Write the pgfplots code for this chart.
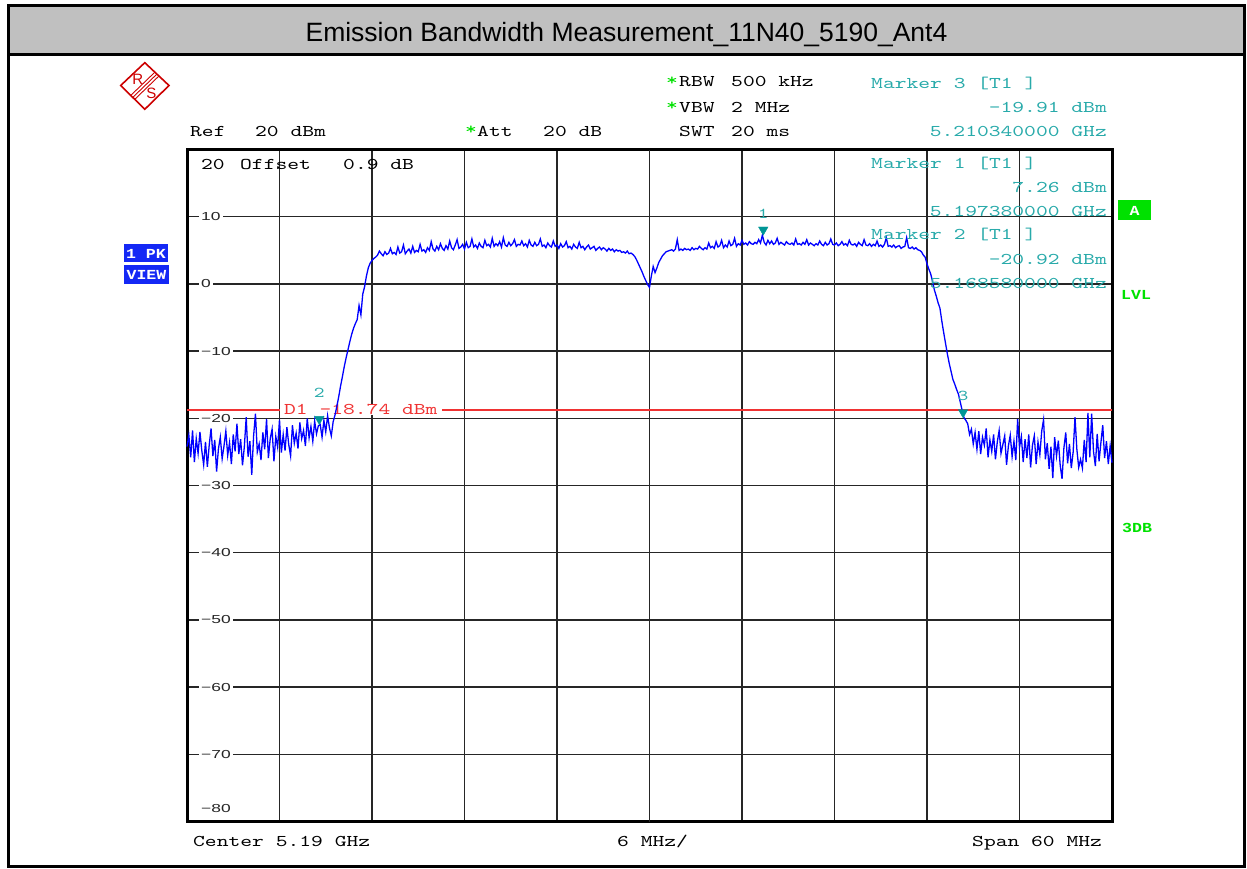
\documentclass[border=0pt]{standalone}
\usepackage{pgfplots}
\pgfplotsset{compat=1.18}
\usetikzlibrary{calc}
\usepackage{fontspec}
\setmainfont{Liberation Sans}
\newfontfamily\monof[Extension=.otf, FakeStretch=1.37]{lmmono10-regular}
\newfontfamily\monobx[FakeStretch=1.2]{Liberation Mono}
\newfontfamily\tickf[FakeStretch=1.5]{Liberation Sans}
\newcommand{\ms}{\fontsize{16.4}{18}\selectfont}
\newcommand{\tfs}{\fontsize{11.6}{12}\selectfont}
\newcommand{\bs}{\fontsize{13.8}{15}\selectfont}
\definecolor{trace}{RGB}{0,0,255}
\definecolor{mk}{RGB}{0,150,150}
\definecolor{mtext}{RGB}{40,170,170}
\definecolor{rsgreen}{RGB}{0,225,0}
\definecolor{dline}{RGB}{240,50,50}
\definecolor{boxblue}{RGB}{20,40,245}
\definecolor{titlegray}{RGB}{192,192,192}
\definecolor{rsred}{RGB}{204,0,0}
\begin{document}
\begin{tikzpicture}
\useasboundingbox (0,0) rectangle (1247pt,869pt);
\begin{scope}[x=1pt,y=-1pt,yshift=869pt]
 \fill[titlegray] (8,5.5) rectangle (1244,54.7);
 \draw[line width=3pt] (8,5.5) rectangle (1244,867);
 \draw[line width=3pt] (8,54.7) -- (1244,54.7);
 \node[anchor=base, inner sep=0pt, font=\fontsize{26.5}{30}\selectfont] at (626.5,41.7) {Emission Bandwidth Measurement\_11N40\_5190\_Ant4};
\end{scope}

\begin{axis}[at={(187pt,47.4pt)}, anchor=south west, width=925pt, height=672pt, scale only axis,
  xmin=0, xmax=60, ymin=-80, ymax=20,
  xtick={0,6,...,60}, ytick={-80,-70,...,20},
  xticklabels={}, yticklabels={},
  grid=major, major grid style={line width=1.4pt, black!85},
  extra x ticks={30}, extra x tick labels={}, extra x tick style={grid style={line width=2.8pt, black}},
  tick style={draw=none},
  axis line style={line width=3pt, black},
  clip=false]
 % level tick labels inside plot
 \begin{scope}[every node/.style={anchor=west, fill=white, inner xsep=2.5pt, inner ysep=1.5pt, xshift=11.5pt, font=\tickf\tfs, text=black!85}]
  \node at (axis cs:0,10) {10};
  \node at (axis cs:0,0) {0};
  \node at (axis cs:0,-10) {−10};
  \node at (axis cs:0,-20) {−20};
  \node at (axis cs:0,-30) {−30};
  \node at (axis cs:0,-40) {−40};
  \node at (axis cs:0,-50) {−50};
  \node at (axis cs:0,-60) {−60};
  \node at (axis cs:0,-70) {−70};
 \end{scope}
 \node[anchor=west, inner xsep=0pt, xshift=14pt, font=\tickf\tfs, text=black!85] at (axis cs:0,-78) {−80};
 % display line D1
 \addplot[dline, line width=1.3pt] coordinates {(0,-18.74) (60,-18.74)};
 \node[anchor=base west, fill=white, text=dline, inner xsep=4pt, inner ysep=0pt, yshift=-4.7pt, font=\monof\ms] at (axis cs:6.03,-18.74) {D1 -18.74 dBm\hspace{6pt}};
 % trace
 \addplot[trace, line width=1.3pt] table[header=false, row sep=\\, x expr=\coordindex*0.12, y index=0] {
-24.2\\-22.5\\-25.8\\-21.8\\-26.5\\-23.0\\-25.2\\-22.0\\-24.8\\-26.9\\
-23.5\\-27.2\\-24.0\\-21.5\\-25.6\\-23.2\\-27.9\\-24.5\\-22.8\\-26.0\\
-24.1\\-21.9\\-25.5\\-23.6\\-26.8\\-22.4\\-24.9\\-20.8\\-25.3\\-23.1\\
-27.0\\-24.2\\-19.8\\-25.7\\-23.4\\-28.4\\-22.6\\-19.3\\-25.0\\-23.8\\
-26.2\\-22.1\\-24.6\\-20.1\\-25.9\\-23.0\\-21.6\\-26.4\\-22.7\\-24.3\\
-20.2\\-25.1\\-22.4\\-24.8\\-21.3\\-23.9\\-25.6\\-21.0\\-23.7\\-22.2\\
-24.5\\-20.6\\-23.0\\-21.8\\-24.1\\-20.0\\-22.9\\-21.2\\-23.4\\-20.4\\
-22.3\\-21.1\\-20.9\\-22.8\\-20.3\\-22.0\\-19.6\\-21.4\\-22.6\\-20.5\\
-19.5\\-18.2\\-16.8\\-15.2\\-13.8\\-12.3\\-11.0\\-9.8\\-8.6\\-7.5\\
-6.6\\-5.9\\-5.3\\-3.2\\-4.6\\-1.5\\-0.4\\1.2\\2.4\\3.1\\
3.5\\3.8\\4.0\\4.3\\4.9\\4.5\\4.2\\4.8\\4.4\\4.6\\
5.3\\4.5\\4.7\\4.4\\5.5\\4.6\\4.8\\5.8\\4.5\\4.9\\
5.2\\4.6\\5.6\\4.7\\5.0\\4.8\\5.9\\4.9\\5.1\\4.7\\
5.4\\5.0\\6.3\\5.2\\4.9\\5.6\\5.1\\6.0\\5.3\\5.0\\
5.7\\5.2\\6.4\\5.4\\5.1\\5.8\\6.6\\5.3\\5.5\\5.9\\
5.2\\6.2\\5.4\\5.6\\6.7\\5.5\\5.8\\5.3\\6.1\\5.6\\
5.4\\6.5\\5.7\\5.9\\5.5\\6.8\\5.6\\6.0\\5.7\\6.3\\
5.5\\6.9\\5.8\\5.6\\6.2\\5.7\\6.0\\6.6\\5.6\\5.9\\
5.8\\6.4\\5.7\\6.0\\5.5\\6.5\\5.8\\5.6\\6.2\\5.7\\
5.9\\6.7\\5.6\\5.8\\5.4\\6.1\\5.7\\5.5\\6.4\\5.6\\
5.8\\5.3\\6.0\\5.5\\5.7\\6.3\\5.4\\5.6\\5.2\\5.9\\
5.5\\5.3\\6.2\\5.4\\5.6\\5.1\\5.5\\5.8\\5.2\\5.4\\
5.6\\5.0\\5.3\\5.5\\5.1\\5.4\\5.2\\4.9\\5.3\\5.0\\
5.2\\4.8\\5.1\\4.9\\5.0\\4.7\\4.8\\4.6\\4.9\\4.5\\
4.6\\4.4\\4.1\\3.6\\3.0\\2.4\\1.8\\1.1\\0.5\\-0.1\\
-0.5\\1.2\\2.6\\1.7\\2.4\\3.2\\3.7\\4.2\\4.5\\4.8\\
4.9\\5.0\\5.1\\4.9\\5.2\\6.6\\5.0\\5.2\\5.0\\5.3\\
5.1\\5.2\\5.0\\5.4\\5.1\\5.3\\5.2\\5.6\\5.3\\5.1\\
5.4\\5.2\\6.1\\5.4\\5.6\\5.3\\6.3\\5.5\\5.7\\6.5\\
5.4\\5.8\\5.5\\6.4\\5.7\\5.9\\6.8\\5.6\\6.0\\5.8\\
6.5\\5.9\\6.1\\5.8\\6.3\\6.0\\5.9\\6.2\\6.0\\6.6\\
6.1\\7.26\\6.2\\5.8\\6.5\\6.0\\6.4\\5.9\\6.1\\6.8\\
5.9\\6.2\\6.0\\5.8\\6.3\\6.0\\5.9\\6.1\\5.8\\6.7\\
5.9\\6.0\\5.8\\6.2\\5.9\\6.6\\5.8\\6.1\\5.9\\5.7\\
6.0\\5.8\\6.4\\5.9\\5.7\\6.2\\5.8\\6.0\\6.7\\5.9\\
5.8\\6.1\\5.7\\5.9\\6.3\\5.8\\6.0\\5.7\\6.5\\5.9\\
5.8\\6.0\\5.6\\6.2\\5.9\\5.7\\6.6\\5.8\\5.7\\6.0\\
5.6\\5.9\\5.7\\6.4\\5.6\\5.8\\5.5\\5.9\\6.9\\5.6\\
5.7\\5.5\\5.8\\5.4\\5.6\\5.7\\5.3\\5.5\\5.6\\6.9\\
5.4\\5.3\\5.5\\5.2\\5.4\\5.1\\5.0\\4.8\\4.3\\4.0\\
3.0\\2.2\\1.5\\0.4\\-0.9\\-1.8\\-2.8\\-3.6\\-5.5\\-7.2\\
-8.8\\-10.4\\-11.8\\-13.0\\-14.2\\-14.9\\-15.7\\-16.4\\-17.6\\-18.8\\
-19.9\\-20.3\\-20.8\\-22.4\\-21.6\\-23.8\\-22.1\\-24.6\\-21.9\\-25.3\\
-22.8\\-24.0\\-21.5\\-25.8\\-23.2\\-24.9\\-22.4\\-26.1\\-23.5\\-21.8\\
-25.2\\-23.9\\-22.6\\-26.9\\-24.1\\-22.5\\-25.7\\-23.4\\-26.2\\-20.1\\
-24.3\\-22.7\\-26.5\\-23.1\\-25.9\\-22.4\\-27.3\\-24.0\\-22.6\\-26.8\\
-23.5\\-25.4\\-21.9\\-20.2\\-26.1\\-23.7\\-27.5\\-24.2\\-28.9\\-22.8\\
-25.6\\-23.3\\-27.0\\-29.0\\-24.4\\-22.1\\-26.7\\-23.8\\-27.4\\-25.0\\
-19.8\\-24.6\\-27.3\\-26.1\\-27.4\\-23.2\\-26.5\\-19.2\\-25.8\\-19.3\\
-24.9\\-27.1\\-22.3\\-26.4\\-23.6\\-21.0\\-25.9\\-23.4\\-26.8\\-24.1\\
-26.6\\
 };
 % markers
 \addplot[only marks, mark=triangle*, mark size=5.5pt, color=mk, mark options={yshift=5.5pt, rotate=180}] coordinates {(37.38,7.26) (8.58,-20.92) (50.34,-19.91)};
 \begin{scope}[every node/.style={anchor=base, inner sep=0pt, yshift=17pt, text=mtext, font=\monof\fontsize{15}{15}\selectfont}]
  \node at (axis cs:37.38,7.26) {1};
  \node[yshift=10pt] at (axis cs:8.58,-20.92) {2};
  \node at (axis cs:50.34,-19.91) {3};
 \end{scope}
\end{axis}

\begin{scope}[x=1pt,y=-1pt,yshift=869pt]
 % R&S logo
 \draw[rsred, line width=1.6pt, line join=miter] (120.7,85.5) -- (144.8,62.7) -- (169,85.5) -- (144.8,109.3) -- cycle;
 \foreach \d in {-2.8,0,2.8} {
   \draw[rsred, line width=0.9pt] ($(132.75,97.4)+(0.728*\d,0.686*\d)$) -- ($(156.9,74.1)+(0.728*\d,0.686*\d)$);
 }
 \node[rsred, inner sep=0pt, font=\fontsize{15}{15}\selectfont] at (137.7,79.7) {R};
 \node[rsred, inner sep=0pt, font=\fontsize{15}{15}\selectfont] at (151.3,93.3) {S};
 % blue boxes
 \fill[boxblue] (124,244) rectangle (168,262);
 \fill[boxblue] (124,265) rectangle (169,284);
 \node[white, inner sep=0pt, font=\monobx\bfseries\bs] at (146,253.5) {1 PK};
 \node[white, inner sep=0pt, font=\monobx\bfseries\bs] at (146.5,274.5) {VIEW};
 % green indicators
 \fill[rsgreen] (1118,200) rectangle (1151,220);
 \node[white, inner sep=0pt, font=\monobx\bfseries\bs] at (1134.5,210.5) {A};
 \node[rsgreen, anchor=base west, inner sep=0pt, font=\monobx\bfseries\bs] at (1121,300) {LVL};
 \node[rsgreen, anchor=base west, inner sep=0pt, font=\monobx\bfseries\bs] at (1122,533) {3DB};
 % header texts
 \begin{scope}[every node/.style={anchor=base west, inner sep=0pt, font=\monof\ms}]
  \node at (190,136.5) {Ref};
  \node at (255,136.5) {20 dBm};
  \node[rsgreen] at (465,135) {*};
  \node at (477,136.7) {Att};
  \node at (543,136.7) {20 dB};
  \node[rsgreen] at (666,85.5) {*};
  \node at (679,86.7) {RBW};
  \node at (731,86.7) {500 kHz};
  \node[rsgreen] at (666,110.5) {*};
  \node at (679,112.5) {VBW};
  \node at (731,112.5) {2 MHz};
  \node at (679,136.7) {SWT};
  \node at (731,136.7) {20 ms};
  \node at (201,170) {20};
  \node at (240,170) {Offset};
  \node at (343,170) {0.9 dB};
  \node[text=mtext] at (871,88.3) {Marker 3 [T1\ ]};
  \node[text=mtext] at (871,168.3) {Marker 1 [T1\ ]};
  \node[text=mtext] at (871,240) {Marker 2 [T1\ ]};
  \node at (193,847) {Center 5.19 GHz};
  \node at (617,847) {6 MHz/};
  \node at (972,847) {Span 60 MHz};
 \end{scope}
 \begin{scope}[every node/.style={anchor=base east, inner sep=0pt, text=mtext, font=\monof\ms}]
  \node at (1107,112.7) {-19.91 dBm};
  \node at (1107,136.7) {5.210340000 GHz};
  \node at (1107,192.7) {7.26 dBm};
  \node at (1107,216.7) {5.197380000 GHz};
  \node at (1107,264.3) {-20.92 dBm};
  \node at (1107,288.3) {5.168580000 GHz};
 \end{scope}
\end{scope}
\end{tikzpicture}
\end{document}
